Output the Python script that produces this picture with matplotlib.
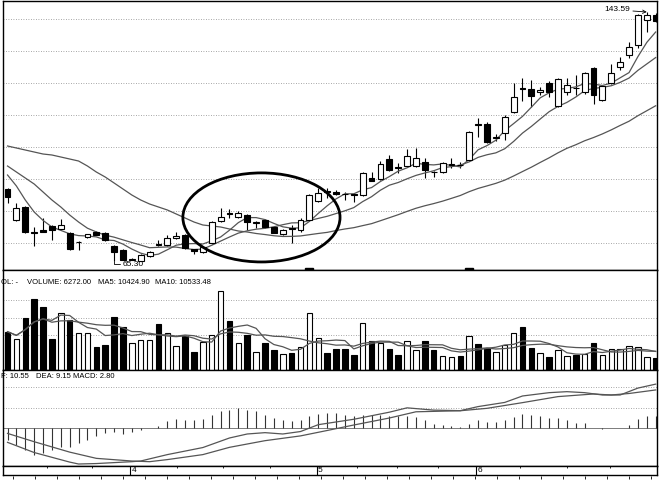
import numpy as np
import pandas as pd
import matplotlib
matplotlib.use("Agg")
import matplotlib.pyplot as plt
from matplotlib.patches import Ellipse
import matplotlib.transforms as mtransforms

plt.rcParams['font.family'] = ['Liberation Sans', 'DejaVu Sans']

# ---------------- data ----------------
open_ = [87.94, 78.19, 82.28, 74.42, 75.05, 76.31, 75.36, 74.10, 71.20, 72.85,
         74.42, 74.10, 70.02, 68.76, 65.75, 65.40, 66.87, 70.65, 70.33, 72.53,
         73.48, 68.92, 68.13, 70.96, 77.88, 80.39, 79.14, 79.76, 77.25, 78.19,
         75.99, 73.79, 75.68, 75.05, 78.19, 84.17, 87.16, 87.00, 86.37, 86.37,
         86.05, 91.40, 91.08, 97.37, 94.86, 95.17, 95.17, 96.43, 93.28, 93.28,
         95.64, 95.60, 97.06, 108.37, 108.37, 104.13, 105.54, 112.15, 119.69, 119.38,
         118.44, 121.26, 114.03, 118.44, 119.69, 118.44, 125.98, 115.92, 121.26, 126.30,
         130.07, 133.21, 141.07, 142.64]
high = [88.25, 83.54, 82.59, 75.99, 78.82, 76.62, 78.51, 74.42, 71.59, 73.90,
        74.73, 74.30, 70.33, 69.07, 66.30, 67.50, 68.45, 71.90, 73.48, 74.42,
        73.79, 69.07, 69.90, 77.88, 81.96, 81.65, 81.00, 80.08, 77.88, 78.51,
        76.31, 75.36, 76.62, 78.82, 86.37, 88.25, 88.25, 87.62, 87.00, 86.68,
        93.28, 93.28, 96.74, 98.63, 96.11, 100.51, 100.83, 97.68, 93.60, 96.43,
        97.68, 96.43, 106.17, 110.26, 109.00, 105.23, 111.20, 121.26, 122.84, 122.21,
        120.01, 121.89, 122.84, 122.84, 123.78, 124.72, 126.30, 120.64, 127.24, 129.44,
        134.16, 142.96, 143.59, 143.43]
low = [83.54, 77.88, 74.10, 70.02, 74.30, 71.90, 75.05, 68.90, 68.76, 72.53,
       73.48, 71.59, 65.30, 65.50, 65.50, 65.35, 66.60, 70.02, 70.02, 72.30,
       69.20, 67.50, 67.90, 70.65, 77.60, 78.82, 78.90, 75.05, 75.68, 75.68,
       74.00, 73.60, 70.96, 74.42, 77.88, 84.00, 85.10, 86.05, 84.48, 83.85,
       85.74, 90.30, 90.90, 93.60, 92.97, 95.00, 94.86, 91.40, 91.71, 92.97,
       94.54, 94.54, 96.74, 104.29, 102.50, 103.03, 103.34, 111.90, 115.61, 113.72,
       117.49, 116.86, 113.72, 117.49, 117.49, 117.81, 114.66, 115.61, 120.95, 125.35,
       129.12, 132.27, 137.30, 140.50]
close = [85.42, 81.96, 74.42, 74.10, 74.42, 75.05, 76.62, 69.07, 71.28, 73.79,
         73.63, 71.90, 68.13, 65.62, 66.00, 67.20, 68.13, 70.33, 72.53, 73.16,
         69.39, 68.45, 69.70, 77.56, 79.14, 80.08, 80.39, 77.56, 77.56, 75.99,
         74.10, 75.05, 75.36, 78.19, 86.05, 86.68, 87.00, 86.21, 86.21, 86.05,
         92.97, 90.45, 95.80, 93.91, 94.54, 98.31, 97.68, 93.91, 93.13, 96.11,
         95.80, 95.48, 105.86, 108.06, 102.72, 104.29, 110.58, 116.86, 119.38, 117.18,
         119.06, 118.44, 122.52, 120.64, 119.54, 124.41, 117.49, 120.32, 124.41, 127.87,
         132.58, 142.64, 142.64, 140.76]
volume = [20030, 16213, 27196, 37133, 33106, 16213, 29968, 26150, 19351, 19351,
          12186, 13075, 27876, 22646, 14278, 15690, 15690, 23901, 19351, 12552,
          17782, 9571, 14801, 18305, 41474, 25627, 13964, 18305, 9571, 14278,
          10460, 8211, 9048, 12186, 29654, 16579, 9048, 10826, 10826, 7845,
          24738, 15167, 14278, 10826, 7845, 15324, 10460, 15167, 10460, 7322,
          6642, 7322, 17782, 13598, 11349, 9571, 13075, 19508, 22332, 11349,
          9048, 6956, 10460, 7322, 7845, 8368, 14278, 7845, 10826, 10826,
          12552, 12186, 6642, 6272]
macd_hist = [-2.81, -4.01, -5.37, -6.42, -6.02, -5.37, -4.57, -4.57, -3.61, -2.81,
             -1.84, -1.20, -1.04, -1.36, -1.04, -0.56, -0.05, 0.56, 1.60, 2.17,
             2.00, 2.00, 2.17, 3.21, 4.01, 4.41, 4.81, 4.25, 4.01, 3.21,
             2.41, 2.00, 1.60, 1.84, 2.81, 3.45, 3.61, 3.61, 3.21, 2.97,
             3.21, 3.21, 3.21, 2.97, 2.81, 2.97, 2.65, 1.84, 1.04, 0.80,
             0.56, 0.24, 1.04, 2.00, 1.36, 1.36, 1.84, 2.65, 3.45, 3.21,
             2.81, 2.41, 2.41, 2.00, 1.20, 1.20, 0.05, -0.24, -0.05, 0.05,
             0.80, 2.17, 2.81, 2.80]
dif_idx = [0, 3, 7, 8, 10, 14, 15, 18, 22, 25, 27, 29, 31, 33, 35, 39, 43, 45, 48, 51,
           53, 56, 58, 61, 63, 65, 67, 69, 71, 73]
dif_val = [-3.45, -5.9, -8.2, -8.66, -8.55, -8.1, -7.94, -6.4, -4.7, -2.4, -1.44, -1.12,
           -1.44, -0.85, 0.8, 2.1, 3.8, 4.85, 4.3, 4.17, 5.15, 6.15, 7.7, 8.5, 8.74,
           8.5, 7.94, 7.94, 9.6, 10.55]
dea_idx = [0, 3, 7, 10, 14, 16, 18, 22, 25, 29, 33, 36, 39, 43, 46, 51, 54, 58, 62, 66,
           68, 70, 73]
dea_val = [-1.3, -3.3, -5.8, -7.3, -7.94, -8.1, -7.6, -6.4, -4.65, -3.05, -1.9, -0.6,
           0.72, 2.4, 3.9, 4.15, 4.73, 6.1, 7.55, 8.18, 7.94, 8.3, 9.15]
# moving-average values before each window fills
ma5_head = [92.34, 88.88, 84.48, 80.71]
ma10_head = [95.17, 93.28, 91.40, 89.51, 87.00, 84.48, 82.28, 79.76, 77.56]
ma30_head = [101.46, 100.83, 100.20, 99.57, 98.94, 98.63, 98.00, 97.37, 96.74, 95.17,
             93.28, 91.71, 89.83, 87.94, 86.05, 84.48, 83.22, 82.28, 81.34, 80.08,
             78.82, 77.56, 76.62, 76.31, 75.99, 75.36, 74.73, 74.42, 73.95]
month_starts = [14, 35, 53]
month_labels = ['4', '5', '6']
event_idx = [34, 52]
price_max_label = '143.59'
price_min_label = '65.30'
vol_header = ['OL: -', 'VOLUME: 6272.00', 'MA5: 10424.90', 'MA10: 10533.48']
macd_header = ['F: 10.55', 'DEA: 9.15', 'MACD: 2.80']

# ---------------- derived series ----------------
n = len(close)
x = np.arange(n)
cs = pd.Series(close)
ma5 = np.r_[ma5_head, cs.rolling(5).mean().values[4:]]
ma10 = np.r_[ma10_head, cs.rolling(10).mean().values[9:]]
ma30 = np.r_[ma30_head, cs.rolling(30).mean().values[29:]]
vs = pd.Series(volume, dtype=float)
vma5 = vs.rolling(5, min_periods=1).mean().values
vma10 = vs.rolling(10, min_periods=1).mean().values
o = np.array(open_); c = np.array(close); h = np.array(high); l = np.array(low)
up = c >= o
faces = np.where(up, 'white', 'black')

# ---------------- figure ----------------
W, H = 660, 482
fig = plt.figure(figsize=(W / 100, H / 100), dpi=100)

def add_ax(left, top, right, bottom):
    return fig.add_axes([left / W, 1 - bottom / H, (right - left) / W, (bottom - top) / H])

XL = (-0.51, 73.15)
ax_p = add_ax(3, 1, 657, 270)
ax_v = add_ax(3, 270, 657, 370)
ax_m = add_ax(3, 370, 657, 466)
ax_d = add_ax(3, 466, 657, 475)

grid_kw = dict(color='#8a8a8a', lw=0.6, ls=(0, (1, 2)))
line_c = '#555555'

for ax in (ax_p, ax_v, ax_m, ax_d):
    ax.set_xlim(*XL)
    ax.tick_params(length=0, labelleft=False, labelbottom=False)
    ax.set_xticks([])
    for s in ax.spines.values():
        s.set_linewidth(1.0)
        s.set_color('black')

# ---- price panel ----
ax_p.set_ylim(62.47, 147.05)
ax_p.set_yticks([70.96, 81.02, 91.08, 101.14, 111.20, 121.26, 131.33, 141.39])
ax_p.grid(axis='y', **grid_kw)
ax_p.vlines(x, l, h, color='black', lw=0.8, zorder=2)
body = np.maximum(np.abs(c - o), 0.12)
ax_p.bar(x, body, bottom=np.minimum(o, c), width=0.66, color=faces,
         edgecolor='black', linewidth=0.8, zorder=3)
for m in (ma5, ma10, ma30):
    ax_p.plot(x, m, color=line_c, lw=0.9, zorder=2.5)
ell = Ellipse((28.6, 79.0), 17.7, 28.0, fill=False, edgecolor='black', lw=2.0, zorder=5)
ax_p.add_patch(ell)
imax = int(np.argmax(h)); imin = int(np.argmin(l))
ax_p.annotate(price_max_label, xy=(imax, h[imax]), xytext=(-12, 1.5), textcoords='offset points',
              ha='right', va='center', fontsize=6,
              arrowprops=dict(arrowstyle='->', lw=0.6, color='black', shrinkA=0, shrinkB=0))
ax_p.annotate(price_min_label, xy=(imin, l[imin]), xytext=(6, -2.5), textcoords='offset points',
              ha='left', va='center', fontsize=6,
              arrowprops=dict(arrowstyle='-', lw=0.6, color='black', shrinkA=0, shrinkB=0,
                              connectionstyle='angle,angleA=0,angleB=90'))
trans = mtransforms.blended_transform_factory(ax_p.transData, ax_p.transAxes)
ax_p.plot(event_idx, [-0.008] * len(event_idx), 's', color='black', ms=5.5,
          transform=trans, clip_on=False, zorder=6)
ax_p.text(62, -0.01, '$', transform=trans, fontsize=5, ha='center', va='center')

# ---- volume panel ----
ax_v.set_ylim(0, 52300)
ax_v.set_yticks([18300, 27350, 36600])
ax_v.grid(axis='y', **grid_kw)
ax_v.bar(x, volume, width=0.62, color=faces, edgecolor='black', linewidth=0.8, zorder=3)
ax_v.plot(x, vma5, color=line_c, lw=0.9, zorder=4)
ax_v.plot(x, vma10, color=line_c, lw=0.9, zorder=4)
vx = [1, 27, 98, 155]
for xx, t in zip(vx, vol_header):
    fig.text(xx / W, 1 - 282 / H, t, fontsize=5.5, ha='left', va='center')

# ---- MACD panel ----
ax_m.set_ylim(-9.14, 13.95)
ax_m.set_yticks([4.81, 9.86])
ax_m.grid(axis='y', **grid_kw)
ax_m.axhline(0, color='#666666', lw=0.6)
ax_m.vlines(x, 0, macd_hist, color='#333333', lw=0.8)
ax_m.plot(dif_idx, dif_val, color=line_c, lw=0.9)
ax_m.plot(dea_idx, dea_val, color=line_c, lw=0.9)
mx = [1, 36, 73]
for xx, t in zip(mx, macd_header):
    fig.text(xx / W, 1 - 377 / H, t, fontsize=5.5, ha='left', va='center')

# ---- date strip ----
ax_d.set_ylim(0, 1)
for ms, lab in zip(month_starts, month_labels):
    ax_d.axvline(ms - 0.2, color='black', lw=0.8)
    ax_d.text(ms - 0.05, 0.45, lab, fontsize=6, ha='left', va='center')
wk = [4.5, 9.5, 19.1, 24.3, 29.6, 39.4, 43.9, 48.5, 57.7, 63.0, 67.9]
ax_d.vlines(wk, 0.75, 1.0, color='black', lw=0.6)
trans_d = mtransforms.blended_transform_factory(ax_d.transData, ax_d.transAxes)
bt = np.arange(0.6, 73, 2.48)
ax_d.vlines(bt, -0.15, -0.45, color='black', lw=0.6, transform=trans_d, clip_on=False)

fig.savefig('out.png', dpi=100)
